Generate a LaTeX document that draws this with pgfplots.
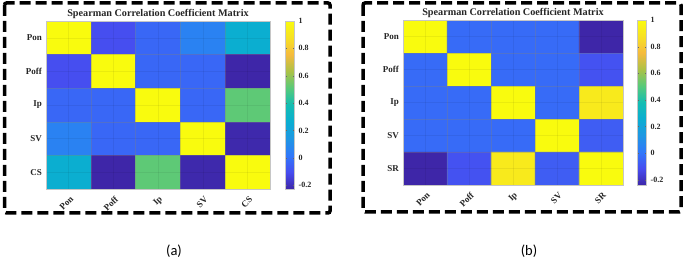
\documentclass[border=0pt]{standalone}
\usepackage{pgfplots}
\pgfplotsset{compat=1.18}
\usepackage{pgfplotstable}
\usepackage{fontspec}
\setmainfont{Liberation Serif}
\newfontfamily\calibri{Carlito}

\pgfplotstableread{
x y c
0 0 1.00
1 0 -0.10
2 0 -0.03
3 0 0.06
4 0 0.27
0 1 -0.10
1 1 1.00
2 1 -0.03
3 1 -0.03
4 1 -0.227
0 2 -0.03
1 2 -0.03
2 2 1.00
3 2 -0.03
4 2 0.52
0 3 0.06
1 3 -0.03
2 3 -0.03
3 3 1.00
4 3 -0.22
0 4 0.27
1 4 -0.227
2 4 0.52
3 4 -0.22
4 4 1.00
}\dataA

\pgfplotstableread{
x y c
0 0 1.00
1 0 -0.03
2 0 -0.03
3 0 -0.03
4 0 -0.24
0 1 -0.03
1 1 1.00
2 1 -0.03
3 1 -0.03
4 1 -0.10
0 2 -0.03
1 2 -0.03
2 2 1.00
3 2 -0.03
4 2 0.92
0 3 -0.03
1 3 -0.03
2 3 -0.03
3 3 1.00
4 3 -0.07
0 4 -0.24
1 4 -0.10
2 4 0.92
3 4 -0.07
4 4 1.00
}\dataB

\pgfplotsset{
  colormap={parula}{
    rgb=(0.2422,0.1504,0.6603)
    rgb=(0.2780,0.3000,0.9400)
    rgb=(0.1900,0.4700,0.9800)
    rgb=(0.1200,0.5900,0.8900)
    rgb=(0.0400,0.6800,0.8200)
    rgb=(0.0800,0.7400,0.7000)
    rgb=(0.3400,0.7900,0.4800)
    rgb=(0.6700,0.7600,0.2800)
    rgb=(0.9600,0.7300,0.2400)
    rgb=(0.9700,0.8800,0.1400)
    rgb=(0.9763,0.9831,0.0538)
  },
  heat/.style={
    scale only axis,
    anchor=south west,
    y dir=reverse,
    xmin=-0.5, xmax=4.5, ymin=-0.5, ymax=4.5,
    xtick={0,1,2,3,4}, ytick={0,1,2,3,4},
    minor xtick={0.5,1.5,2.5,3.5}, minor ytick={0.5,1.5,2.5,3.5},
    major tick length=0pt, minor tick length=0pt,
    grid=both,
    major grid style={black, opacity=0.06, line width=0.4pt},
    minor grid style={gray, opacity=0.35, line width=0.5pt},
    axis on top,
    axis line style={gray!45, line width=0.6pt},
    ticklabel style={font=\fontsize{9}{10}\selectfont\bfseries, text=black!85},
    yticklabel style={inner sep=0pt, xshift=-4pt},
    xticklabel style={inner sep=0pt, anchor=east, xshift=3.5pt, yshift=-9pt, rotate=45},
    every axis title/.style={font=\fontsize{10.2}{11}\selectfont\bfseries, text=black!85, at={(0.5,1)}, anchor=center, yshift=7pt, inner sep=0pt},
    title={Spearman Correlation Coefficient Matrix},
    colormap name=parula,
    colorbar,
    point meta max=1,
  }
}

\begin{document}
\begin{tikzpicture}[x=1pt,y=1pt]
\useasboundingbox (0,0) rectangle (685,259);

\begin{axis}[heat,
  at={(46pt,70pt)}, width=224pt, height=168pt,
  xticklabels={Pon,Poff,Ip,SV,CS},
  yticklabels={Pon,Poff,Ip,SV,CS},
  point meta min=-0.227,
  colorbar style={
    at={(parent axis.north east)}, anchor=north west, xshift=7pt,
    scale only axis, width=9pt, height=168pt,
    ytick={-0.2,0,0.2,0.4,0.6,0.8,1},
    yticklabel style={font=\fontsize{8}{9}\selectfont\bfseries, text=black!85, inner sep=0pt, xshift=4pt,
      /pgf/number format/assume math mode=true, /pgf/number format/fixed, /pgf/number format/precision=1},
    axis line style={gray!45, line width=0.6pt},
    major tick length=1.5pt, tick style={black!60},
  },
]
\addplot[matrix plot*, mesh/cols=5, point meta=explicit] table[x=x, y=y, meta=c] {\dataA};
\end{axis}

\begin{axis}[heat,
  at={(403pt,74pt)}, width=220pt, height=165pt,
  xticklabels={Pon,Poff,Ip,SV,SR},
  yticklabels={Pon,Poff,Ip,SV,SR},
  point meta min=-0.24,
  colorbar style={
    at={(parent axis.north east)}, anchor=north west, xshift=6pt,
    scale only axis, width=9pt, height=165pt,
    ytick={-0.2,0,0.2,0.4,0.6,0.8,1},
    yticklabel style={font=\fontsize{8}{9}\selectfont\bfseries, text=black!85, inner sep=0pt, xshift=4pt,
      /pgf/number format/assume math mode=true, /pgf/number format/fixed, /pgf/number format/precision=1},
    axis line style={gray!45, line width=0.6pt},
    major tick length=1.5pt, tick style={black!60},
  },
]
\addplot[matrix plot*, mesh/cols=5, point meta=explicit] table[x=x, y=y, meta=c] {\dataB};
\end{axis}

\draw[line width=3.5pt, dash pattern=on 11pt off 5pt, rounded corners=2pt] (4.5,256) rectangle (330,46);
\draw[line width=3.5pt, dash pattern=on 11pt off 5pt, rounded corners=2pt] (363,256) rectangle (681,47);

\node[font=\calibri\fontsize{14.5}{16}\selectfont] at (174,8) {(a)};
\node[font=\calibri\fontsize{14.5}{16}\selectfont] at (529,8) {(b)};
\end{tikzpicture}
\end{document}
